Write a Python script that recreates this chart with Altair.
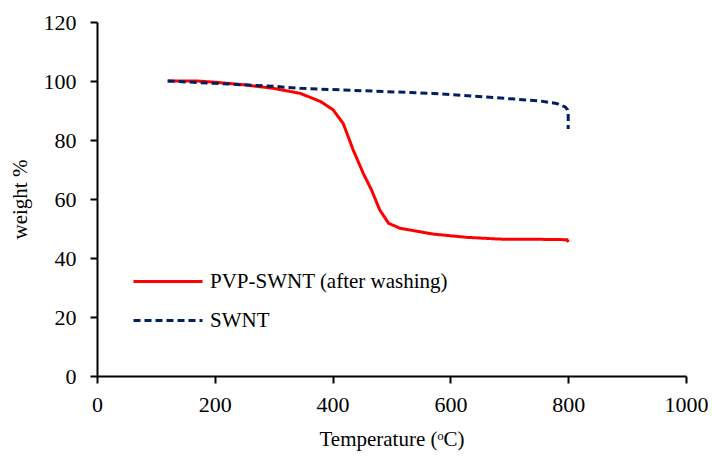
import altair as alt
import pandas as pd

# PVP-SWNT (after washing)
pvp_temp = [120, 170, 200, 250, 300, 345, 380, 401, 418, 435, 452, 466, 480, 495, 514, 571, 628, 684, 769, 798, 800]
pvp_weight = [100, 100, 99.6, 98.7, 97.5, 95.8, 93.0, 90.2, 85.6, 76.6, 68.7, 63.1, 56.3, 51.8, 50.1, 48.1, 47.0, 46.4, 46.3, 46.2, 45.4]

# SWNT
swnt_temp = [120, 200, 300, 345, 450, 571, 700, 750, 780, 795, 799, 800, 800]
swnt_weight = [100, 99.2, 98.2, 97.5, 96.7, 95.8, 94.0, 93.3, 92.4, 91.2, 90.2, 89.0, 83.7]

series_names = ["PVP-SWNT (after washing)", "SWNT"]
series_colors = ["#FF0000", "#002060"]
series_dash = [[1, 0], [7, 4]]

x_ticks = [0, 200, 400, 600, 800, 1000]
y_ticks = [0, 20, 40, 60, 80, 100, 120]

rows = []
for i, (t, w) in enumerate(zip(pvp_temp, pvp_weight)):
    rows.append({"series": series_names[0], "temp": t, "weight": w, "order": i})
for i, (t, w) in enumerate(zip(swnt_temp, swnt_weight)):
    rows.append({"series": series_names[1], "temp": t, "weight": w, "order": i})
df = pd.DataFrame(rows)

FONT = "Liberation Serif"

chart = alt.Chart(df).mark_line(strokeWidth=3).encode(
    x=alt.X("temp:Q", title="Temperature (ᵒC)",
            scale=alt.Scale(domain=[0, 1000], nice=False),
            axis=alt.Axis(values=x_ticks, format="d", labelFlush=False, labelOverlap=False)),
    y=alt.Y("weight:Q", title="weight %",
            scale=alt.Scale(domain=[0, 120], nice=False),
            axis=alt.Axis(values=y_ticks, format="d", labelFlush=False, labelOverlap=False)),
    color=alt.Color("series:N",
                    scale=alt.Scale(domain=series_names, range=series_colors),
                    legend=alt.Legend(title=None, orient="none", legendX=35, legendY=247,
                                      symbolType="stroke", symbolSize=4761,
                                      symbolStrokeWidth=3, labelFont=FONT,
                                      labelFontSize=21, labelColor="#000000",
                                      labelLimit=0, clipHeight=25,
                                      rowPadding=14, padding=0, labelOffset=6)),
    strokeDash=alt.StrokeDash("series:N",
                              scale=alt.Scale(domain=series_names, range=series_dash),
                              legend=None),
    order="order:Q",
).properties(
    width=589, height=354,
    padding={"left": 97, "top": 22, "right": 26, "bottom": 80},
    autosize=alt.AutoSizeParams(type="none"),
).configure_view(
    stroke=None
).configure_axis(
    grid=False,
    domainColor="#000000",
    domainWidth=2,
    tickColor="#000000",
    tickWidth=2,
    tickSize=7,
    labelFont=FONT,
    labelFontSize=22,
    labelColor="#000000",
    titleFont=FONT,
    titleFontSize=21,
    titleFontWeight="normal",
    titleColor="#000000",
).configure_axisX(
    labelPadding=11,
    titlePadding=13,
).configure_axisY(
    labelPadding=14,
    titlePadding=13,
)

chart.save("out.html", embed_options={"renderer": "svg", "actions": False})
